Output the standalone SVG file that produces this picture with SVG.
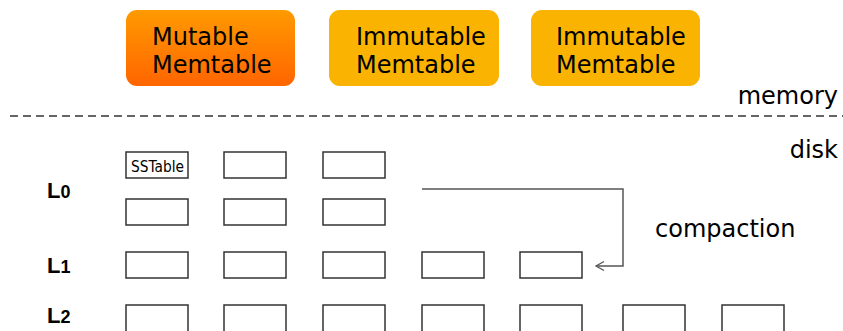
<svg xmlns="http://www.w3.org/2000/svg" width="843" height="331" viewBox="0 0 843 331">
<defs>
<linearGradient id="gMut" x1="0" y1="0" x2="0" y2="1">
<stop offset="0" stop-color="#FF9A00"/>
<stop offset="1" stop-color="#FF6500"/>
</linearGradient>
<marker id="arr" markerWidth="12" markerHeight="12" refX="10" refY="6" orient="auto" markerUnits="userSpaceOnUse">
<path d="M2,1.5 L10,6 L2,10.5" fill="none" stroke="#555" stroke-width="1.3"/>
</marker>
</defs>
<style>
.mem{font-family:"DejaVu Sans",sans-serif;font-size:24px;fill:#000}
.lbl{font-family:"DejaVu Sans",sans-serif;font-size:24px;fill:#000}
.lv{font-family:"Liberation Sans",Arial,sans-serif;font-size:22px;font-weight:bold;fill:#000}
.lv tspan{font-size:18px}
.ss{fill:#fff;stroke:#333;stroke-width:1.5}
.imm{fill:#F9B300}
.conn{fill:none;stroke:#555;stroke-width:1.5}
</style>
<rect width="843" height="331" fill="#fff"/>
<g id="mutable">
<rect x="126" y="10" width="169" height="76" rx="11" fill="url(#gMut)"/>
<text class="mem" x="152" y="45">Mutable</text>
<text class="mem" x="152" y="73">Memtable</text>
</g>
<g id="immutable1">
<rect class="imm" x="329" y="10" width="170" height="76" rx="11"/>
<text class="mem" x="356" y="45">Immutable</text>
<text class="mem" x="356" y="73">Memtable</text>
</g>
<g id="immutable2">
<rect class="imm" x="531" y="10" width="169" height="76" rx="11"/>
<text class="mem" x="556" y="45">Immutable</text>
<text class="mem" x="556" y="73">Memtable</text>
</g>
<g id="divider">
<line x1="10" y1="116" x2="843" y2="116" stroke="#333" stroke-width="1.5" stroke-dasharray="8,5"/>
<text class="lbl" x="838" y="104" text-anchor="end">memory</text>
<text class="lbl" x="838" y="158" text-anchor="end">disk</text>
</g>
<g id="levels">
<text class="lv" x="47" y="198">L<tspan>0</tspan></text>
<text class="lv" x="47" y="273">L<tspan>1</tspan></text>
<text class="lv" x="47" y="323">L<tspan>2</tspan></text>
</g>
<g id="L0">
<rect class="ss" x="126" y="152" width="62" height="26"/>
<text x="131" y="172" font-family="DejaVu Sans,sans-serif" font-size="15.5" textLength="53" lengthAdjust="spacingAndGlyphs">SSTable</text>
<rect class="ss" x="224" y="152" width="62" height="26"/>
<rect class="ss" x="323" y="152" width="62" height="26"/>
<rect class="ss" x="126" y="199" width="62" height="26"/>
<rect class="ss" x="224" y="199" width="62" height="26"/>
<rect class="ss" x="323" y="199" width="62" height="26"/>
</g>
<g id="L1">
<rect class="ss" x="126" y="252" width="62" height="26"/>
<rect class="ss" x="224" y="252" width="62" height="26"/>
<rect class="ss" x="323" y="252" width="62" height="26"/>
<rect class="ss" x="422" y="252" width="62" height="26"/>
<rect class="ss" x="520" y="252" width="62" height="26"/>
</g>
<g id="L2">
<rect class="ss" x="126" y="305" width="62" height="30"/>
<rect class="ss" x="224" y="305" width="62" height="30"/>
<rect class="ss" x="323" y="305" width="62" height="30"/>
<rect class="ss" x="422" y="305" width="62" height="30"/>
<rect class="ss" x="520" y="305" width="62" height="30"/>
<rect class="ss" x="623" y="305" width="62" height="30"/>
<rect class="ss" x="722" y="305" width="62" height="30"/>
</g>
<g id="connectors">
<path class="conn" d="M422,189 H623 V266 H596" marker-end="url(#arr)"/>
<text class="lbl" x="655" y="237">compaction</text>
</g>
</svg>
